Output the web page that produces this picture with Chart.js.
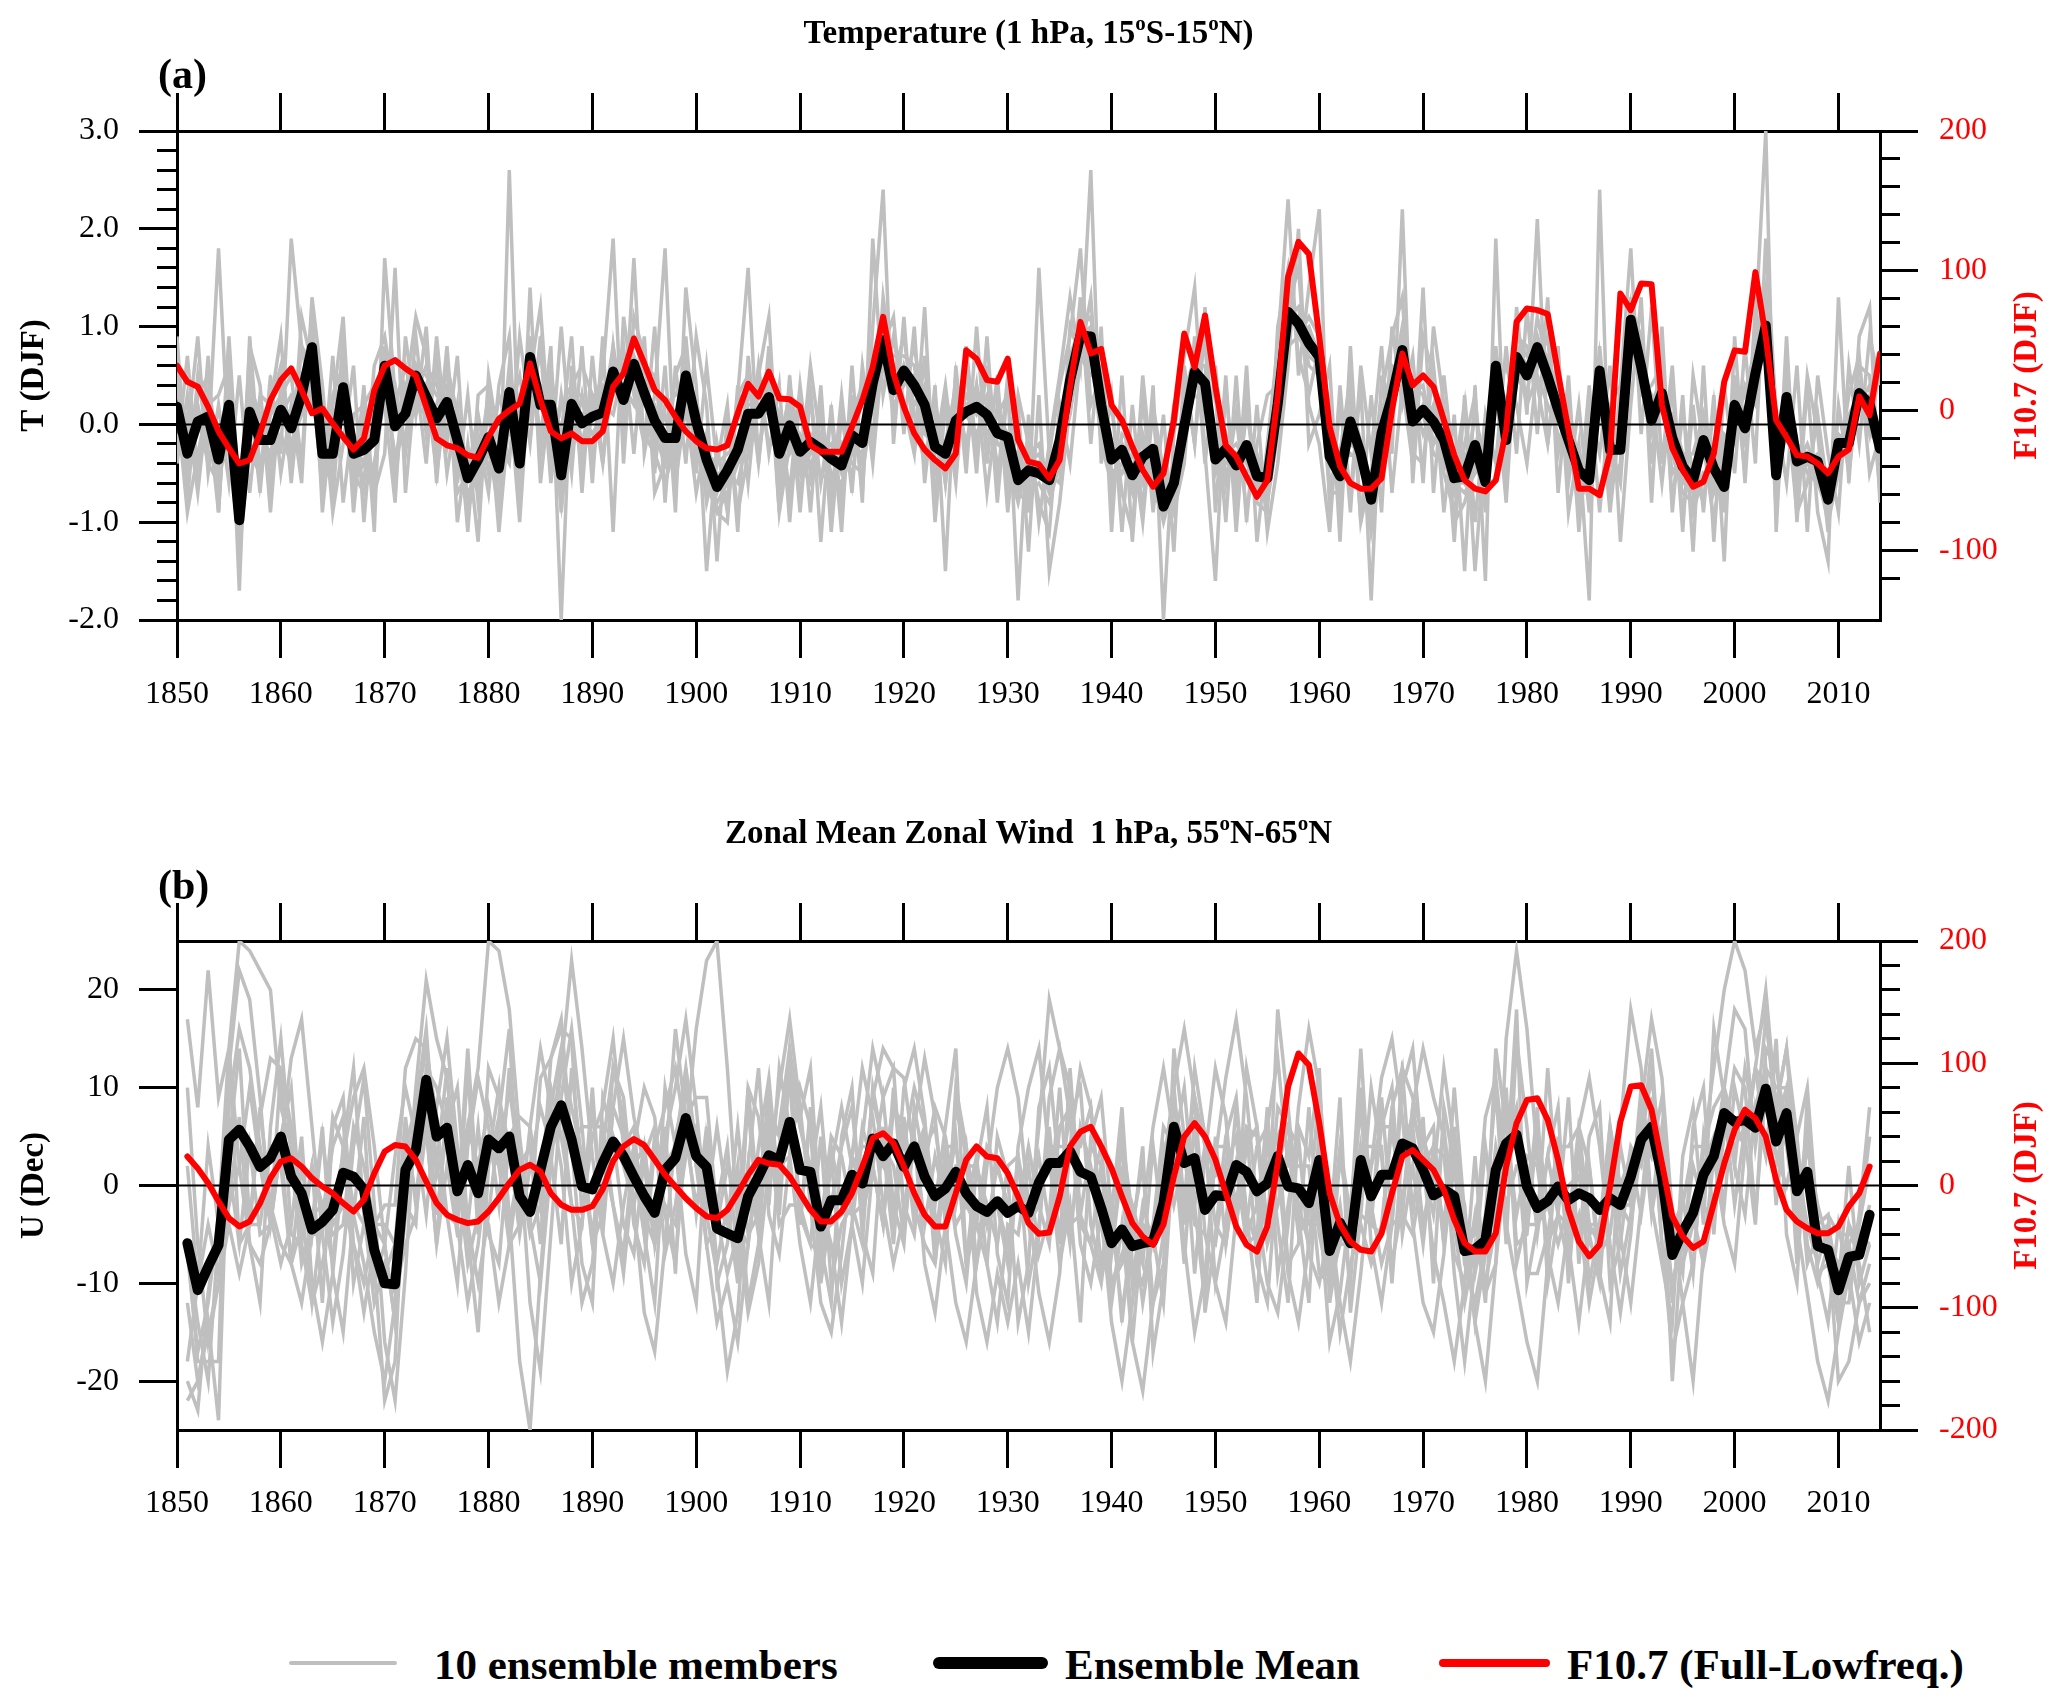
<!DOCTYPE html>
<html>
<head>
<meta charset="utf-8">
<script src="https://cdn.jsdelivr.net/npm/chart.js@4.4.1/dist/chart.umd.min.js"></script>
<style>
html,body{margin:0;padding:0;background:#fff;}
#wrap{position:relative;width:2067px;height:1701px;overflow:hidden;background:#fff;}
#cA{position:absolute;left:0;top:0;}
#cB{position:absolute;left:0;top:780px;}
.lg{position:absolute;font-family:"Liberation Serif","Times New Roman",serif;font-weight:bold;font-size:43px;line-height:43px;color:#000;white-space:nowrap;}
.ln{position:absolute;border-radius:6px;}
</style>
</head>
<body>
<div id="wrap">
<canvas id="cA" width="2067" height="780"></canvas>
<canvas id="cB" width="2067" height="800"></canvas>
<div class="ln" style="left:289px;top:1661px;width:108px;height:4px;background:#bfbfbf"></div>
<div class="lg" style="left:434px;top:1643px">10 ensemble members</div>
<div class="ln" style="left:933px;top:1657px;width:115px;height:12px;background:#000"></div>
<div class="lg" style="left:1065px;top:1643px">Ensemble Mean</div>
<div class="ln" style="left:1439px;top:1659px;width:111px;height:8px;background:#ff0000"></div>
<div class="lg" style="left:1567px;top:1643px">F10.7 (Full-Lowfreq.)</div>
</div>
<script>
// ---------------- DATA ----------------
const startYearA = 1850, countA = 165;   // panel (a): 1850-2014
const startYearB = 1851, countB = 163;   // panel (b): 1851-2013
const yearTicks = [1850,1860,1870,1880,1890,1900,1910,1920,1930,1940,1950,1960,1970,1980,1990,2000,2010];
const tempTicks = [-2,-1,0,1,2,3];
const f107TicksA = [-100,0,100,200];
const windTicks = [-20,-10,0,10,20];
const f107TicksB = [-200,-100,0,100,200];

const titleA = [['Temperature (1 hPa, 15',0],['o',1],['S-15',0],['o',1],['N)',0]];
const titleB = [['Zonal Mean Zonal Wind  1 hPa, 55',0],['o',1],['N-65',0],['o',1],['N',0]];

// Panel (a) ensemble mean T (DJF)
const tempMean = [0.18,-0.30,0.03,0.08,-0.36,0.20,-0.98,0.13,-0.16,-0.16,
0.15,-0.04,0.30,0.79,-0.30,-0.30,0.38,-0.30,-0.26,-0.16,
0.60,-0.02,0.11,0.50,0.28,0.06,0.23,-0.16,-0.55,-0.36,
-0.13,-0.45,0.33,-0.40,0.69,0.20,0.20,-0.52,0.21,0.01,
0.08,0.12,0.54,0.25,0.62,0.32,0.04,-0.14,-0.14,0.50,
0.03,-0.36,-0.64,-0.47,-0.26,0.11,0.11,0.28,-0.30,-0.01,
-0.28,-0.18,-0.25,-0.35,-0.42,-0.11,-0.19,0.42,0.86,0.35,
0.55,0.40,0.20,-0.23,-0.30,0.04,0.13,0.18,0.10,-0.09,
-0.13,-0.57,-0.47,-0.50,-0.57,-0.16,0.45,0.91,0.90,0.20,
-0.36,-0.26,-0.52,-0.33,-0.25,-0.84,-0.60,-0.02,0.54,0.42,
-0.36,-0.25,-0.42,-0.21,-0.53,-0.55,0.21,1.15,1.03,0.83,
0.69,-0.33,-0.53,0.03,-0.30,-0.77,-0.09,0.28,0.76,0.03,
0.15,0.03,-0.16,-0.55,-0.53,-0.21,-0.59,0.60,-0.16,0.69,
0.50,0.79,0.49,0.15,-0.16,-0.47,-0.57,0.55,-0.26,-0.26,
1.07,0.59,0.04,0.32,-0.14,-0.43,-0.57,-0.16,-0.45,-0.64,
0.20,-0.04,0.52,1.01,-0.52,0.28,-0.38,-0.33,-0.38,-0.77,
-0.19,-0.19,0.32,0.21,-0.25];

// Panel (a) F10.7 (Full-Lowfreq.)
const f107A = [32,20.5,17,2.6,-15,-27,-38,-35.5,-16.5,7.4,
21.7,30,14.5,-2,1.4,-9.3,-19,-28,-20,14.5,
32,36,30,25,2.6,-20,-25,-27,-32,-34,
-19,-6,0,5,33.6,7.4,-15,-20,-16.5,-22,
-22,-15,17,26.5,51.5,33.6,14.5,7.4,-4.5,-15,
-22,-27,-28,-25,-2,19,10,27.7,8.6,8,
2.6,-25,-29.6,-29.6,-29.6,-11.7,7.4,31,67,26.5,
2.6,-16.5,-28,-35.5,-41.5,-30.8,43,37,21.7,20.5,
37,-21,-36.7,-38.5,-48.6,-35.5,17,63.4,40.8,44,
3.8,-7,-26,-42.7,-54.6,-45,-7,55,31,68,
17,-25,-33,-47.5,-61.8,-50,10,95.6,120.6,112,
52.7,-11.7,-40,-52,-56,-56,-48.6,0,40.8,18,
25,17,-7,-32,-50,-56,-58,-50,-14,63.4,
73,71.8,69,26.5,-14,-56,-56,-60.6,-30.8,83.7,
71.8,90.8,90.4,3.8,-27,-42.7,-54.6,-51,-30.8,20.5,
43,42,99,52.7,-7,-19,-32,-33,-38,-45,
-33,-28,10,-3.3,40.8];

// Panel (a) ensemble members
const tempM1 = [.6,-.8,.5,-.2,1.8,-.3,-1.2,.4,.1,-.6, .3,.5,-.4,1.2,-.9,.2,1.1,-.7,.4,-1.1, 1.7,.3,-.2,.9,-.1,.6,-.5,.2,-1.1,.3, .4,-1.0,2.6,-.6,.9,-.2,.8,-2.0,.6,-.3, .2,.5,1.9,-.4,1.1,.7,-.5,.6,-.9,1.4, .4,-1.5,-.2,-.9,.3,1.6,-.4,.8,-.9,.5, -.8,.4,-1.2,.2,-.9,.3,-.7,1.0,2.4,-.2, 1.1,-.3,.7,-1.0,.2,-.6,.8,-.3,.6,-.8, .4,-1.8,.1,-1.0,-.2,.5,1.3,.6,2.6,-.4, .3,-1.1,.2,-.9,.4,-2.0,-.1,.7,1.4,-.3, -1.6,.4,-.9,.6,-1.2,-.2,.8,2.3,.5,1.4, 2.2,-.9,.2,-.7,.4,-1.8,.5,-.3,2.2,-.6, .9,.5,-.9,.1,-1.5,.4,-1.6,1.9,-.7,1.2, .1,2.1,-.2,.8,-.9,-.2,-1.8,2.4,-.8,.4, 1.8,-.1,1.2,-.4,.6,-1.0,.2,-.9,.3,-1.4, .9,-.6,1.0,3.0,-1.1,.9,-1.0,.4,-.9,-1.4, 1.3,-.6,.9,1.2,-.8];
const tempM2 = [-.4,.3,-.6,.7,-.9,.8,-1.7,.9,-.5,.4, -.3,1.9,.8,.2,.3,-.9,-.2,.6,-1.0,.3, .2,-.8,.9,.1,1.0,-.6,.7,-1.0,-.2,-1.2, .5,-.2,-.4,.9,.1,.8,-.6,.3,-.5,.8, -.6,.9,-1.1,1.1,.3,-.2,1.0,-.8,.6,-.4, .9,.2,-1.4,.1,-.9,-.3,.6,-.3,.4,-1.0, .3,-.9,.4,-1.1,.1,-.6,.5,-.4,.8,1.1, -.1,1.0,-.6,.4,-1.5,.6,-.5,1.0,-.4,.5, -.9,.2,-1.3,.3,-1.5,-.8,.2,1.3,-.2,1.0, -1.1,.5,-1.2,.3,-.9,.1,-1.3,.6,-.2,1.0, .3,-1.0,.5,-1.0,.2,-1.1,-.4,.6,2.0,-.2, .1,.6,-1.2,.8,-1.0,.3,-.9,1.0,.2,.7, -.6,1.0,.2,-1.2,.3,-1.0,.1,-.4,.8,-.3, 1.2,-.1,1.3,-.7,.5,-1.1,.2,-.3,.6,-1.2, .2,1.3,-.8,1.0,-.9,.3,-1.3,.6,-1.2,.4, -.5,.8,-.4,1.9,.1,-.6,.6,-1.1,.5,-.3, -.9,.6,-.2,.9,.4];
const tempM3 = [.5,-.1,.9,-.5,.2,-.6,.5,-.7,.3,.2, .9,-.5,1.1,.6,-.6,.7,-.8,.1,.2,-.7, -.3,1.6,-.7,.5,-.4,.9,-.2,.7,-.9,-.1, -.7,.4,.9,-.9,1.4,-.6,.4,-.1,.9,-.7, .7,-.4,.8,-.1,1.7,-.3,.3,1.8,-.6,.2, -.7,-.1,-.9,-1.0,.4,-.6,.5,1.1,-.7,.3, -.9,.3,-.6,.1,-1.1,.6,-.8,1.9,.3,.9, .2,-.3,1.2,-.8,.3,-.2,.6,-.5,.9,-.6, .5,-.2,-.9,1.6,-.3,.4,.9,1.8,.2,.5, -.7,-.1,-.2,-1.0,.2,-.5,-.9,-.4,.9,-.4, .6,-.6,.1,-.9,-.2,.3,.4,1.2,1.6,.2, -.2,-1.1,.4,-.9,.6,-.3,.8,-.7,.4,-.4, 1.4,-.7,.5,-.5,.2,-1.5,-.1,.3,.6,.2, -.4,.6,.9,-.3,.3,-.8,.4,-.9,.2,.4, .8,.5,.3,-.6,.4,-1.1,.5,-.2,-1.0,-.1, -.2,.4,.2,1.1,-.9,.6,-.8,.5,-.1,-1.1, .2,-.5,.4,-.1,.6];
const tempM4 = [-.3,.7,-.5,.2,-.8,.5,-.9,.3,-.7,.5, -.5,.2,-.6,1.3,.4,-.8,.7,-.9,.2,.4, .6,-.4,.3,1.1,.7,-.3,.8,-.6,.3,-.8, .2,-1.1,.1,.5,-.2,.9,-.4,1.0,-.3,.3, -.4,.3,.4,.8,-.3,.9,-.7,-.4,.5,.8, -.5,.6,-.4,.2,-1.1,.7,-.3,.4,.1,-.7, .4,-.5,.1,-.8,.3,-.7,.6,-.2,1.3,.5, .9,.1,-.4,.3,-.6,.5,-.3,.4,-.7,.2, -.6,.3,-.2,-.8,-1.1,.2,-.4,.7,1.3,-.2, .2,-.7,-1.1,.5,-.6,-.7,.2,.5,-.2,1.2, -.9,.5,-1.1,.3,-.8,-.9,1.0,1.6,.7,.3, .8,-.6,-.3,.5,-1.0,-.5,.3,.9,1.3,-.3, -.4,.6,-.5,-.9,-.2,.3,-.9,.4,-.8,.9, .8,.4,-.2,.7,-.6,.2,-.9,.3,-.9,.1, 1.2,.9,-.4,.7,-.8,.1,-.5,-.8,.2,-.9, .5,-.5,1.2,.6,-.3,.2,-.9,-.6,.1,-.7, -.4,.3,.7,-.5,-.1];
const tempM5 = [.9,-.6,.3,.5,-.5,-.2,-1.1,.8,.4,-.9, .4,-.3,.2,.5,-.7,.1,.3,-.2,-.6,.6, .9,.2,.6,.1,.4,-.5,.3,-.7,-.5,.1, -.5,.3,-.1,-.2,.5,1.2,-.3,.2,.4,.6, .3,-.4,.6,.2,.9,.7,-.3,.2,.3,.5, .2,-.8,-.3,-.6,.3,.5,-.4,.6,-.9,-.2, -.5,.6,-.2,-.3,-.7,.1,.4,.3,.6,.2, .4,.8,.1,-.3,.4,-.5,.5,.3,-.2,.1, .3,-.7,-.8,-.4,-.5,-.6,1.0,.7,.5,.6, -.3,-.5,-.3,-.6,.1,-.9,-.5,.3,.7,.8, -.4,-.2,-.6,.2,-.7,-.4,.5,.8,.9,1.0, .7,.2,-.8,.3,-.2,-1.1,-.4,.5,.6,.4, .3,-.2,.1,-1.0,-.8,-.4,-.7,.8,-.2,.5, .3,1.1,.6,.4,-.1,-.9,-.4,.7,-.2,-.6, .9,.3,.4,.6,-.3,-.7,-.8,.1,-.3,-.8, .1,.3,.8,1.4,-.6,.5,-.2,-.5,-.6,-.9, .1,-.3,.6,.5,-.7];
const tempM6 = [.2,-.9,-.3,.2,.3,.6,-1.3,-.2,-.4,-.3, -.1,-.4,.8,.6,-.4,-.6,.9,-.5,-.7,-.4, .3,-.3,-.1,.3,.6,.4,.1,-.1,-.4,-.6, -.2,-.9,.3,-1.0,.6,-.1,.6,-.9,.2,-.4, .1,.2,.1,.6,.4,-.1,-.3,-.6,-.2,.9, -.3,-.5,-.7,-.4,-.4,-.2,.4,-.2,-.2,.3, -.4,-.6,-.2,-.6,-.2,-.4,-.5,.2,.7,.6, .5,.5,.3,.1,-.6,.2,.1,-.1,.2,-.4, -.2,-.3,-.6,-.5,-.4,-.3,.1,.8,.9,-.2, -.6,-.2,-.6,-.4,-.3,-.7,-.8,.2,.3,.2, -.3,-.1,-.7,.1,-.4,-.8,-.1,1.1,1.2,.6, .5,-.7,-.7,.2,-.4,-.9,.1,.6,.5,.3, -.1,.2,-.3,-.4,-.6,.1,-.4,.3,-.1,.7, .2,.5,.2,-.1,-.4,-.3,-.8,.4,-.6,-.4, 1.3,.4,.1,.2,.1,-.3,-.9,-.5,-.6,-.5, .4,.1,.3,.9,-.6,.1,-.6,-.4,-.5,-1.0, -.5,-.1,.2,.4,-.6];
const tempM7 = [-.1,-.5,.4,.1,-.9,.9,-.8,.6,-.6,.2, .6,-.6,.5,.7,-.2,-.5,.2,-.1,-.2,-.5, .8,-.6,.4,.2,.1,.2,.6,.1,-.8,-.3, .1,-.4,-.3,.2,.5,.4,.3,-.7,-.1,.1, -.1,.1,.3,.4,.2,.6,.5,-.3,-.2,.1, .3,-.6,-.9,-.7,-.4,.3,.3,.2,-.5,.4, -.2,-.4,-.5,-.6,-.3,.2,-.1,.7,.8,.1, .6,.2,.4,-.5,-.2,.4,.3,.2,.1,.3, -.4,-.8,-.3,-.2,-.6,-.1,.6,1.1,.8,.4, -.5,-.4,-.3,-.2,-.7,-.9,-.4,-.2,.4,.5, -.1,-.6,-.3,-.5,-.3,-.7,.3,1.4,.9,1.1, .9,.1,-.4,-.3,-.4,-.6,-.3,.4,1.0,.2, .1,-.3,-.4,-.6,-.7,-.5,-.4,.6,.2,.9, .7,.9,.6,.1,.2,-.4,-.6,.8,-.4,-.2, 1.0,.8,.1,.3,-.5,-.3,-.3,.1,-.7,-.4, .1,-.2,.4,1.0,-.4,.3,-.2,-.3,-.6,-.5, -.3,.1,.3,-.1,-.2];
const tempM8 = [.4,-.4,.2,-.3,-.2,.1,-.7,.2,.1,-.4, .1,.3,.2,1.0,-.3,-.2,.5,-.4,-.1,-.2, .4,.1,.2,.6,.2,.1,.3,-.3,-.7,-.5, -.3,-.6,.5,-.5,.8,.3,.1,-.6,.1,-.2, .2,0,.6,.3,.5,.2,.2,-.2,.1,.4, .1,-.3,-.4,-.3,-.2,.2,.2,.1,-.4,-.1, -.2,-.1,-.3,-.2,-.5,-.2,-.3,.4,.9,.5, .5,.2,.3,-.1,-.4,.1,.2,.3,.2,-.2, -.2,-.5,-.6,-.4,-.7,-.3,.4,.9,1.0,.1, -.2,-.2,-.5,-.4,-.4,-.6,-.7,.1,.5,.3, -.5,-.2,-.5,-.3,-.6,-.5,.1,1.0,1.1,.9, .6,-.2,-.6,.1,-.2,-.7,.1,.4,.7,-.1, .2,.1,-.3,-.6,-.6,-.2,-.7,.5,-.1,.8, .6,.7,.4,.3,-.3,-.6,-.7,.5,-.2,-.3, 1.1,.7,-.1,.2,-.2,-.4,-.7,-.1,-.4,-.7, .3,-.1,.6,.9,-.5,.4,-.3,-.4,-.3,-.6, -.1,-.2,.2,.1,-.2];
const tempM9 = [-.2,.1,-.7,.3,-.4,.2,-.6,-.3,-.5,.1, .3,-.2,.1,.4,-.6,.3,.6,-.6,-.4,.2, .2,.4,-.3,.6,.5,.3,.4,-.2,-.5,-.4, .3,-.5,.2,-.8,.7,-.3,.6,-.4,.3,.3, -.3,.4,.3,.5,.6,.4,-.2,.1,-.4,.6, .1,-.6,-.5,-.5,-.6,-.1,.3,.5,-.1,-.3, -.1,-.3,-.1,-.5,-.6,-.3,-.1,.3,.8,.7, .7,.6,-.1,-.2,-.5,.3,-.2,.4,-.1,.1, -.1,-.4,-.7,-.6,-.8,-.4,.7,1.0,.7,.3, -.5,-.4,-.7,-.1,-.5,-1.0,-.6,.2,.6,.6, -.5,-.3,-.2,-.4,-.6,-.7,.2,1.3,.9,.7, .6,-.4,-.3,-.2,-.3,-1.0,-.2,.2,.7,.3, .4,-.2,-.1,-.7,-.3,-.4,-.5,.7,-.3,.6, .6,.6,.7,.3,-.4,-.3,-.5,.6,-.4,-.5, .9,.6,.2,.5,-.1,-.6,-.4,-.3,-.5,-.6, .2,.1,.5,1.1,-.6,.4,-.5,-.3,-.5,-.8, -.3,-.3,.2,.3,-.4];
const tempM10 = [.1,-.2,.1,-.4,-.6,.3,-.9,.1,-.1,-.3, .2,.1,.4,.9,-.1,-.4,.4,-.2,-.4,-.6, .5,.1,.3,.4,.1,-.1,.2,-.3,-.9,-.4, -.4,-.5,.6,-.3,.8,.3,.1,-.8,.4,-.2, .3,.1,.8,.1,.7,.4,-.1,-.4,.1,.3, .2,-.5,-.8,-.6,-.2,.3,.2,.2,-.5,.1, -.3,-.4,-.5,-.4,-.3,-.1,-.4,.6,1.0,.3, .6,.4,.3,-.1,-.2,-.1,.3,.1,.3,-.2, -.3,-.7,-.4,-.3,-.6,-.1,.5,1.0,1.1,.3, -.2,-.3,-.6,-.3,-.4,-.9,-.5,.1,.4,.5, -.2,-.4,-.3,-.2,-.5,-.6,.3,1.1,1.2,.9, .7,-.3,-.4,.1,-.4,-.8,-.2,.3,.9,.1, .1,.1,-.2,-.5,-.4,-.3,-.6,.6,-.2,.8, .5,.9,.5,.2,-.3,-.5,-.5,.7,-.3,-.2, 1.2,.5,.1,.4,-.2,-.5,-.6,-.2,-.4,-.6, .2,0,.5,1.2,-.5,.3,-.4,-.2,-.5,-.8, -.3,-.1,.4,.2,-.3];

// Panel (b) ensemble mean U (Dec)
const windMean = [-5.9,-10.7,-8.3,-6.1,4.7,5.7,4,1.9,2.8,5,
0.9,-0.8,-4.5,-3.7,-2.5,1.3,0.9,-0.4,-6.6,-10,
-10.1,1.6,3.6,10.8,5,5.9,-0.6,2.1,-0.8,4.7,
3.8,5,-1.1,-2.7,1.6,6,8.2,4.7,-0.1,-0.4,
2.3,4.5,3,0.9,-1.1,-2.8,1.6,2.8,6.9,3,
1.9,-4.4,-4.9,-5.4,-1.1,0.9,3.1,2.6,6.5,1.6,
1.4,-4.2,-1.5,-1.5,1.1,0.2,4.8,3,4.3,1.9,
4,0.9,-1.1,-0.3,1.4,-0.8,-2.1,-2.7,-1.6,-2.8,
-2.1,-2.8,0.3,2.3,2.3,3.5,1.4,0.9,-2.3,-5.9,
-4.5,-6.2,-5.9,-5.7,-1.8,6,2.3,2.8,-2.5,-1,
-1.1,2.1,1.4,-0.6,0.2,3,-0.1,-0.3,-1.8,2.6,
-6.7,-3.8,-5.9,2.6,-1.1,1.1,1.1,4.3,3.8,1.6,
-1,-0.4,-1.1,-6.7,-6.5,-5.6,1.6,4.3,5.2,-0.1,
-2.3,-1.6,-0.1,-1.5,-0.8,-1.3,-2.5,-1.3,-2,0.9,
4.7,6,0.9,-7.1,-4.7,-2.8,1.1,3,7.4,6.5,
6.7,5.9,9.9,4.5,7.4,-0.6,1.4,-6.2,-6.6,-10.7,
-7.3,-7.1,-3];

// Panel (b) F10.7 (Full-Lowfreq.)
const f107B = [23.7,14,2,-13,-26.7,-33.5,-29.4,-14.4,6,19.6,
22.3,15.5,6,-0.8,-6.3,-14.4,-21.3,-11.7,10,27.8,
33.2,31.9,21,3.3,-14.4,-24,-28,-30.8,-29.4,-21.3,
-10.4,2,12.8,17,11.4,-6.3,-15.8,-19.9,-19.9,-17,
-3,20,32,38,33,21,8.7,-0.8,-10.4,-18.5,
-25.3,-26.7,-19.9,-6.3,8.7,21,18,17,7.4,-6.3,
-19.9,-29.4,-29.4,-21.3,-6.3,15.5,38.7,42.8,34.6,15.5,
-6.3,-24,-33.5,-33.5,-6.3,21,32,23.7,22.3,10,
-9,-30.8,-39.5,-38.5,-9,32,44,48,32,14,
-9,-30.8,-41.7,-48.5,-32,7.4,40,51,40,21,
-6.3,-33.5,-48.5,-54,-33.5,18,81,108,98.6,51,
-6.3,-32,-45.8,-52.6,-54,-39,-6.3,23.7,29,21,
12.8,-3.5,-28,-47,-54,-54,-39,15.5,51,70,
71.4,53.7,21,-19.9,-45.8,-58,-48.5,-0.8,52.3,81,
82,62,18,-25.3,-41.7,-51,-45.8,-14.4,18,45.5,
62,55,40,4.6,-19.9,-29.4,-35,-39,-39,-33.5,
-17,-6.3,15.5];

// Panel (b) ensemble members
const windM1 = [17,8,22,9,14,25,24,22,20,8, 4,-6,-12,-8,-2,3,9,12,4,-6, -14,-3,10,21,15,11,2,6,12,25, 24,18,5,-4,-10,2,12,23,14,3, -5,-10,-2,4,10,7,-3,-8,5,16, 23,25,12,-4,-13,-8,2,10,17,8, -2,-12,-15,-7,3,12,7,-2,-8,-3, 6,13,7,-4,-12,-16,-8,2,10,14, 9,-2,-11,-16,-9,4,12,8,-3,-14, -20,-12,-3,6,12,5,-6,-15,-9,3, 11,17,9,-2,-10,-13,-4,8,16,10, -3,-12,-18,-9,2,11,15,7,-4,-12, -15,-7,4,-5,-14,-20,-8,15,24,16, 3,-7,-12,-4,6,11,4,-6,-13,-5, 8,17,11,-3,-12,-8,4,12,20,25, 22,14,18,6,10,-4,-11,-18,-22,-15, -9,-16,-12];
const windM2 = [-22,-20,-14,-24,8,16,12,4,-3,-8, -4,5,-10,-16,-9,2,-3,-8,-15,-20, -12,5,-1,6,-6,9,-4,-12,-6,3, 10,-3,-18,-25,-9,4,8,-2,-12,-8, 4,12,9,-2,-13,-17,-6,5,10,2, -6,-14,-10,-16,-6,4,11,-1,14,6, 2,-9,3,-10,-4,5,14,9,12,-3, 5,-8,-13,-4,8,3,-11,-16,-9,-14, -8,-15,-5,9,14,7,-6,-10,-3,-12, -4,-16,-21,-12,-5,10,16,9,-5,-10, -14,-3,6,-8,-12,2,-9,-14,-6,-2, -16,-11,-2,8,-6,-12,-4,10,14,2, -7,-12,-18,-10,-3,-12,3,-4,-10,-16, -20,-8,5,-6,-14,-5,-10,4,-5,-12, -2,9,-6,-17,-12,-20,-7,3,-4,-8, 4,12,20,8,14,5,10,-4,-6,-20, -18,-12,-8];
const windM3 = [-6,-14,-20,-5,12,22,19,9,-4,4, 13,17,6,-5,-14,-7,4,11,-2,-16, -22,-9,8,14,7,-3,-10,4,11,6, -2,12,3,-12,-19,-5,9,16,6,-6, 6,-2,-9,2,-5,-12,5,10,17,8, -3,-9,-19,-13,2,-5,-12,4,11,-4, 7,-6,-12,5,10,-5,-9,6,-4,10, 14,7,-6,3,-5,-10,2,8,-7,-12, 4,10,14,3,-8,-2,-14,5,9,-3, -13,-5,4,-17,-10,14,5,-9,3,12, 7,-5,12,6,-6,18,8,-3,-12,6, -5,9,-13,-3,10,3,-8,-2,8,14, 9,5,-9,-18,-8,4,-5,10,-8,-3, 8,-10,-3,9,-8,2,-9,-14,6,18, 12,-2,-8,-14,3,8,-4,16,9,2, -3,8,3,15,-5,-10,9,-9,-14,-4, -10,-3,8];
const windM4 = [-18,-10,-4,-9,-2,7,-6,-12,6,15, 3,-8,-4,6,-9,-15,-3,7,-10,-6, 3,10,5,-3,8,15,4,-5,-15,2, 7,16,-4,6,14,8,2,-10,-4,8, -4,8,15,7,2,-6,10,4,-7,-12, 5,-2,4,-8,2,12,-3,-7,3,-6, -12,-2,-6,-14,-4,-10,2,-4,10,-2, -5,6,-3,-8,10,4,-4,-8,5,1, -14,-8,8,12,1,7,10,-4,-9,-7, 5,-3,-12,-5,-12,4,-8,7,-13,-5, 5,9,-3,-12,5,-4,-12,6,3,12, -12,-5,-4,14,-3,6,10,-5,2,-6, 4,-6,10,-3,-9,-3,10,-6,15,6, -5,3,8,-10,4,-10,-4,3,-9,-3, 6,3,9,-5,-9,6,10,-5,10,18, 16,4,12,-2,9,-8,6,-4,-3,-14, -4,-8,-15];
const windM5 = [10,-6,-16,-10,-4,-9,-4,8,-2,-6, -8,-4,2,-12,6,9,-6,-13,-6,-9, -6,7,-2,10,-3,6,10,-4,6,-5, -8,5,7,6,-2,13,17,4,-8,-12, 9,5,-4,-7,3,6,-7,-2,6,-3, 6,-10,-6,2,-12,-6,8,5,12,-3, -6,5,-10,-4,-2,-6,10,4,-6,7, -2,-6,-8,2,-4,-2,3,-8,-14,-4, -5,2,-7,-3,10,-4,-3,-6,-10,-2, -14,-4,-8,4,-5,8,4,-2,-12,5, -6,2,-6,-5,8,-9,-2,5,-7,-10, -4,-15,-8,-4,-8,-4,6,-3,-5,2, 4,3,-7,-10,3,-11,-8,3,5,-9, -9,-5,2,-6,-3,-12,-6,6,-3,4, 2,8,-6,-10,-5,-3,-8,-2,5,12, 10,-3,10,3,0,5,-6,-10,-6,-8, -6,-12,-10];
const windM6 = [-20,-23,-11,-4,4,14,-4,7,13,12, 6,-2,-12,-3,4,7,-10,-4,-8,-22, -18,4,8,16,2,-3,-4,12,-5,12, 9,4,-5,2,8,4,13,8,3,-6, -3,12,7,-4,-8,4,8,12,5,-2, 4,-8,-2,-10,10,7,-2,12,6,7, 12,-4,5,3,-3,6,2,9,-2,-6, 8,2,8,5,-2,4,-8,-2,-6,2, 3,-10,-4,6,-6,12,-3,4,2,-10, -7,-4,2,-12,-8,10,-2,12,5,-10, -4,8,-3,-6,2,5,-8,-6,8,-5, -10,3,-4,-3,-4,-5,8,12,-3,7, -10,8,2,-2,-14,-7,14,6,-3,3, 2,-6,-3,-8,6,2,-7,-5,4,-2, 8,-3,4,-12,-1,-9,5,-3,8,-2, 6,12,4,2,8,4,-8,-5,-4,-10, 2,-10,-6];
const windM7 = [-7,-17,-12,-3,14,2,-6,-8,-4,12, -5,-6,2,-2,-8,4,12,-3,-12,-8, -11,-6,-3,6,-6,2,-5,-4,-10,-3, 6,-4,2,-5,-2,3,-6,12,2,-5, 3,-2,-7,4,-3,-6,6,-9,12,4, 2,-2,-4,6,-5,-3,6,-4,-2,-2, -6,-7,4,-2,-3,-2,9,4,2,-5, 5,-4,3,-2,5,-8,2,-4,2,-2, -2,4,-2,-6,6,8,-4,-6,2,-3, 8,-8,-10,-4,2,10,-4,6,-2,4, 4,-2,6,5,-6,-2,4,-5,-3,10, -8,-2,-10,4,-2,-8,-4,-3,8,2, -3,6,-4,-12,-6,-10,-4,8,-6,-5, 6,-2,-6,-2,-6,5,8,-10,-6,3, -3,5,1,-5,-8,-4,2,5,-2,10, 5,-4,14,12,6,-3,6,-9,-8,-14, -6,-4,5];
const windM8 = [-12,-20,-15,-10,2,-6,4,-5,-4,5, 10,-4,-3,-2,-5,-4,6,2,-4,-6, -14,-2,-4,12,10,6,2,-8,-3,4, 2,10,2,4,-6,10,5,-2,-4,10, -5,8,5,2,4,-5,-2,-4,3,6, -6,-4,2,-2,8,-4,6,2,3,10, 6,-10,-2,4,8,-3,2,-4,8,6, -4,4,6,-2,2,2,2,-2,-2,-8, 3,-3,3,-4,2,-6,6,2,-8,-2, 4,-10,-2,-6,4,-2,3,-4,-5,-6, 2,-4,4,6,-4,8,6,-2,-6,4, -6,4,-3,4,4,4,-10,4,7,4, 6,-6,2,-8,-12,-6,-2,4,8,-4, -4,3,-3,-4,3,-4,-6,3,-2,-4, 4,14,-2,-10,-6,2,-2,-4,6,4, 6,8,12,10,10,2,-4,-8,-4,-12, -12,-4,2];
const windM9 = [2,-10,4,-4,-2,2,10,2,-4,4, -8,2,-5,5,-4,-2,-6,-10,-4,-4, -6,4,3,8,2,12,-4,6,2,8, 2,-6,-4,2,2,8,14,4,6,6, 6,5,2,-2,4,-6,2,4,12,2, -2,6,-2,-4,-6,2,4,6,14,-4, 8,-4,2,8,2,4,4,2,8,4, 10,6,-8,4,4,-2,-4,4,2,-2, -2,-4,-2,4,4,4,4,8,-4,-10, -8,-2,-6,-4,6,4,10,-2,4,-4, -6,2,-4,4,6,2,6,4,-4,-4, -6,-6,-2,4,2,6,6,-2,6,-4, 2,-4,6,-6,-4,-6,4,-2,2,2, -4,-2,4,4,6,-4,-4,-2,-2,-2, 10,-2,6,-4,-2,4,4,8,10,6, 4,12,10,8,4,-4,4,-2,-6,-10, -4,-6,-2];
const windM10 = [-6,-18,-18,-18,14,-6,-4,-4,4,2, -8,-12,-5,-5,7,4,-2,-4,-4,-2, -2,12,15,14,1,5,-2,14,-2,-4, -12,-6,2,-4,11,13,16,15,-3,5, 8,15,4,6,-5,5,2,16,7,9, 9,-3,-9,-5,10,-2,10,-3,12,6, 1,8,-4,-3,3,-1,9,14,12,11, 3,6,-2,6,14,-8,-4,-4,-2,-6, 2,-4,6,19,14,10,0,0,4,-7, 2,-16,-4,-5,-4,2,2,9,4,1, 2,5,-5,-2,6,13,2,2,2,-9, -10,-6,-6,10,-4,9,-4,12,9,5, 1,12,4,-6,-5,7,11,1,18,-10, -4,12,-2,0,1,-5,-4,6,0,3, 5,11,3,-20,-4,-3,4,3,10,2, 12,6,17,8,14,0,-4,-4,-3,-5, -5,-5,-6];

const tempMembers = [tempM1,tempM2,tempM3,tempM4,tempM5,tempM6,tempM7,tempM8,tempM9,tempM10];
const windMembers = [windM1,windM2,windM3,windM4,windM5,windM6,windM7,windM8,windM9,windM10];

// ---------------- STYLE / HELPERS ----------------
const FONT = '"Liberation Serif","Times New Roman",Times,serif';
const GRAY = '#bfbfbf', RED = '#ff0000';

function xy(start, vals){ return vals.map((v,i)=>({x:start+i, y:v})); }
function setTicks(values){ return function(scale){ scale.ticks = values.map(v=>({value:v})); }; }
function keepStep(step){ return function(scale){ scale.ticks = scale.ticks.filter(t=>Math.abs(t.value/step - Math.round(t.value/step))<1e-6); }; }
function fixW(w){ return function(scale){ scale.width = w; }; }
function fixH(h){ return function(scale){ scale.height = h; }; }

// zero reference line drawn over the ensemble members, under the mean and F10.7 curves
const zeroLinePlugin = {
  id:'zeroLine',
  afterDatasetDraw(chart, args){
    if (args.index !== 2) return;
    const ctx = chart.ctx, ca = chart.chartArea, y = chart.scales.y.getPixelForValue(0);
    ctx.save(); ctx.strokeStyle = '#000'; ctx.lineWidth = 2;
    ctx.beginPath(); ctx.moveTo(ca.left, y); ctx.lineTo(ca.right, y); ctx.stroke(); ctx.restore();
  }
};

const textPlugin = {
  id:'panelText',
  afterDraw(chart, args, o){
    const ctx = chart.ctx, ca = chart.chartArea;
    ctx.save();
    const big = 'bold 33px ' + FONT, small = 'bold 21px ' + FONT;
    let w = 0;
    o.title.forEach(s=>{ ctx.font = s[1]?small:big; w += ctx.measureText(s[0]).width; });
    let x = (ca.left+ca.right)/2 - w/2;
    ctx.fillStyle = '#000'; ctx.textAlign = 'left'; ctx.textBaseline = 'alphabetic';
    o.title.forEach(s=>{ ctx.font = s[1]?small:big; ctx.fillText(s[0], x, o.titleY - (s[1]?13:0)); x += ctx.measureText(s[0]).width; });
    ctx.font = 'bold 42px ' + FONT;
    ctx.fillText(o.label, 158, o.labelY);
    ctx.font = 'bold 33px ' + FONT; ctx.textAlign = 'center'; ctx.textBaseline = 'middle';
    const cy = (ca.top+ca.bottom)/2;
    ctx.save(); ctx.translate(34, cy); ctx.rotate(-Math.PI/2); ctx.fillStyle = '#000'; ctx.fillText(o.leftTitle, 0, 0); ctx.restore();
    ctx.save(); ctx.translate(2027, cy); ctx.rotate(-Math.PI/2); ctx.fillStyle = RED; ctx.fillText(o.rightTitle, 0, 0); ctx.restore();
    ctx.restore();
  }
};

function buildConfig(p){
  const datasets = [];
  datasets.push({label:'F10.7 (Full-Lowfreq.)', data:xy(p.start, p.f107), yAxisID:'yR', xAxisID:'x',
    borderColor:RED, borderWidth:6, pointRadius:0, tension:0, order:0, borderJoinStyle:'round', borderCapStyle:'round'});
  datasets.push({label:'Ensemble Mean', data:xy(p.start, p.mean), yAxisID:'y', xAxisID:'x',
    borderColor:'#000', borderWidth:10, pointRadius:0, tension:0, order:1, borderJoinStyle:'round', borderCapStyle:'round'});
  p.members.forEach((m,i)=>datasets.push({label:'member '+(i+1), data:xy(p.start, m), yAxisID:'y', xAxisID:'x',
    borderColor:GRAY, borderWidth:3.5, pointRadius:0, tension:0, order:2}));
  const tickFont = {family:FONT, size:32};
  const majorGrid = {drawOnChartArea:false, tickLength:38, tickWidth:3, tickColor:'#000', color:'#000', lineWidth:3};
  const minorGrid = {drawOnChartArea:false, tickLength:20, tickWidth:3, tickColor:'#000', color:'#000', lineWidth:3};
  const border = {display:true, color:'#000', width:3};
  return {
    type:'line',
    data:{datasets},
    plugins:[zeroLinePlugin, textPlugin],
    options:{
      responsive:false, animation:false, devicePixelRatio:1,
      layout:{padding:0},
      plugins:{legend:{display:false}, tooltip:{enabled:false},
        panelText:{title:p.title, titleY:p.titleY, label:p.label, labelY:p.labelY, leftTitle:p.leftTitle, rightTitle:'F10.7 (DJF)'}},
      scales:{
        x:{type:'linear', position:'bottom', min:1850, max:2014, afterBuildTicks:setTicks(yearTicks), afterFit:fixH(p.bottomH),
           grid:majorGrid, border:border,
           ticks:{font:tickFont, color:'#000', padding:p.xPad, maxRotation:0, autoSkip:false, callback:v=>String(v)}},
        xTop:{type:'linear', position:'top', min:1850, max:2014, afterBuildTicks:setTicks(yearTicks), afterFit:fixH(p.topH),
           grid:majorGrid, border:border, ticks:{display:false}},
        y:{type:'linear', position:'left', weight:1, min:p.yMin, max:p.yMax, afterBuildTicks:setTicks(p.yTicks), afterFit:fixW(177),
           grid:majorGrid, border:border,
           ticks:{font:tickFont, color:'#000', padding:20, callback:p.yFmt}},
        yMinor:{type:'linear', position:'left', weight:0, min:p.yMin, max:p.yMax, afterBuildTicks:keepStep(p.yMinorStep), afterFit:fixW(0),
           grid:minorGrid, border:{display:false}, ticks:{display:false, stepSize:p.yMinorStep, maxTicksLimit:200}},
        yR:{type:'linear', position:'right', weight:1, min:p.rMin, max:p.rMax, afterBuildTicks:setTicks(p.rTicks), afterFit:fixW(187),
           grid:majorGrid, border:border,
           ticks:{font:tickFont, color:RED, padding:21, callback:v=>String(v)}},
        yRMinor:{type:'linear', position:'right', weight:0, min:p.rMin, max:p.rMax, afterBuildTicks:keepStep(20), afterFit:fixW(0),
           grid:minorGrid, border:{display:false}, ticks:{display:false, stepSize:20, maxTicksLimit:200}}
      }
    }
  };
}

new Chart(document.getElementById('cA'), buildConfig({
  start:startYearA, mean:tempMean, f107:f107A, members:tempMembers,
  title:titleA, titleY:43, label:'(a)', labelY:88, leftTitle:'T (DJF)',
  topH:131, bottomH:160, xPad:17,
  yMin:-2, yMax:3, yTicks:tempTicks, yMinorStep:0.2, yFmt:v=>Number(v).toFixed(1),
  rMin:-150, rMax:200, rTicks:f107TicksA
}));

new Chart(document.getElementById('cB'), buildConfig({
  start:startYearB, mean:windMean, f107:f107B, members:windMembers,
  title:titleB, titleY:63, label:'(b)', labelY:119, leftTitle:'U (Dec)',
  topH:161, bottomH:150, xPad:16,
  yMin:-25, yMax:25, yTicks:windTicks, yMinorStep:2, yFmt:v=>String(v),
  rMin:-200, rMax:200, rTicks:f107TicksB
}));
</script>
</body>
</html>
